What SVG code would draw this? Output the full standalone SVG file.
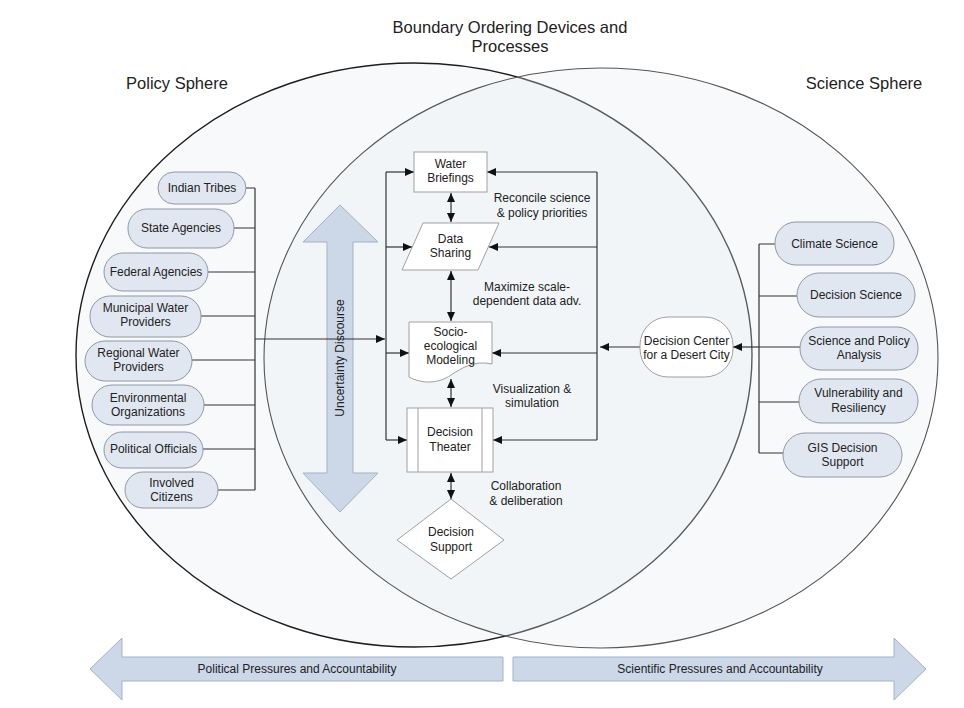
<svg xmlns="http://www.w3.org/2000/svg" width="964" height="708" viewBox="0 0 964 708">
  <style>
    text { font-family: "Liberation Sans", Arial, sans-serif; fill: #222; }
    .title { font-size: 16.5px; text-anchor: middle; }
    .lbl { font-size: 12px; text-anchor: middle; }
    .pill { fill: #e1e7f1; stroke: #9098a6; stroke-width: 1; }
    .box { fill: #ffffff; stroke: #a0a0a0; stroke-width: 1; }
    .wire { fill: none; stroke: #333; stroke-width: 1.2; }
    .fat { fill: #ccd7e8; stroke: #a5b1c3; stroke-width: 1; }
  </style>
  <defs>
    <marker id="ah" markerUnits="userSpaceOnUse" markerWidth="9" markerHeight="8" refX="9" refY="4" orient="auto-start-reverse">
      <path d="M0,0 L9,4 L0,8 z" fill="#111"/>
    </marker>
  </defs>

  <rect width="964" height="708" fill="#ffffff"/>

  <!-- the two spheres -->
  <g id="spheres">
    <ellipse cx="414" cy="355" rx="338" ry="292" fill="#e6eaf1" fill-opacity="0.3" stroke="#1e1e1e" stroke-width="1.4"/>
    <ellipse cx="601" cy="358" rx="337" ry="290" fill="#e6eaf1" fill-opacity="0.3" stroke="#555" stroke-width="1.1"/>
  </g>

  <!-- headings -->
  <g id="headings">
    <text class="title" x="510" y="33">Boundary Ordering Devices and</text>
    <text class="title" x="510" y="52">Processes</text>
    <text class="title" x="177" y="89">Policy Sphere</text>
    <text class="title" x="864" y="89">Science Sphere</text>
  </g>

  <!-- pressure arrows along the bottom -->
  <g id="political-pressures">
    <polygon class="fat" points="90,669 122,638 122,657 503,657 503,681 122,681 122,700"/>
    <text class="lbl" x="297" y="673">Political Pressures and Accountability</text>
  </g>
  <g id="scientific-pressures">
    <polygon class="fat" points="926,669 894,638 894,657 513,657 513,681 894,681 894,700"/>
    <text class="lbl" x="720" y="673">Scientific Pressures and Accountability</text>
  </g>

  <!-- uncertainty discourse double arrow -->
  <g id="uncertainty-discourse">
    <polygon class="fat" points="340,205 378,242 353,242 353,473 378,473 340,512 303,473 327,473 327,242 303,242"/>
    <text class="lbl" transform="translate(344,358) rotate(-90)">Uncertainty Discourse</text>
  </g>

  <!-- connectors -->
  <g id="connectors">
    <!-- policy tree -->
    <path class="wire" d="M246,188 H255 M234,228 H255 M208,272 H255 M201,316 H255 M192,360 H255 M204,405 H255 M203,449 H255 M218,490 H255 M255,188 V490"/>
    <line class="wire" x1="255" y1="339" x2="385" y2="339" marker-end="url(#ah)"/>
    <!-- left bracket -->
    <path class="wire" d="M386,172 V440"/>
    <line class="wire" x1="386" y1="172" x2="414" y2="172" marker-end="url(#ah)"/>
    <line class="wire" x1="386" y1="247" x2="412" y2="247" marker-end="url(#ah)"/>
    <line class="wire" x1="386" y1="353" x2="409" y2="353" marker-end="url(#ah)"/>
    <line class="wire" x1="386" y1="440" x2="407" y2="440" marker-end="url(#ah)"/>
    <!-- right bracket -->
    <path class="wire" d="M597,172 V440"/>
    <line class="wire" x1="597" y1="172" x2="487" y2="172" marker-end="url(#ah)"/>
    <line class="wire" x1="597" y1="247" x2="489" y2="247" marker-end="url(#ah)"/>
    <line class="wire" x1="597" y1="353" x2="492" y2="353" marker-end="url(#ah)"/>
    <line class="wire" x1="597" y1="440" x2="493" y2="440" marker-end="url(#ah)"/>
    <!-- vertical chain -->
    <line class="wire" x1="451" y1="193" x2="451" y2="222" marker-start="url(#ah)" marker-end="url(#ah)"/>
    <line class="wire" x1="451" y1="271" x2="451" y2="321" marker-start="url(#ah)" marker-end="url(#ah)"/>
    <line class="wire" x1="451" y1="379" x2="451" y2="407" marker-start="url(#ah)" marker-end="url(#ah)"/>
    <line class="wire" x1="451" y1="473" x2="451" y2="499" marker-start="url(#ah)" marker-end="url(#ah)"/>
    <!-- science tree -->
    <path class="wire" d="M759,244 V453 M759,244 H775 M759,296 H797 M759,347 H800 M759,402 H799 M759,453 H783"/>
    <line class="wire" x1="759" y1="347" x2="733" y2="347" marker-end="url(#ah)"/>
    <line class="wire" x1="640" y1="347" x2="600" y2="347" marker-end="url(#ah)"/>
  </g>

  <!-- annotations on the chain -->
  <g id="annotations">
    <text class="lbl" x="542" y="202">Reconcile science</text>
    <text class="lbl" x="542" y="217">&amp; policy priorities</text>
    <text class="lbl" x="527" y="291">Maximize scale-</text>
    <text class="lbl" x="527" y="305">dependent data adv.</text>
    <text class="lbl" x="532" y="393">Visualization &amp;</text>
    <text class="lbl" x="532" y="407">simulation</text>
    <text class="lbl" x="526" y="490">Collaboration</text>
    <text class="lbl" x="526" y="505">&amp; deliberation</text>
  </g>

  <!-- policy actors -->
  <g id="indian-tribes">
    <rect class="pill" x="158" y="172" width="88" height="32" rx="16"/>
    <text class="lbl" x="202" y="192">Indian Tribes</text>
  </g>
  <g id="state-agencies">
    <rect class="pill" x="128" y="209" width="106" height="39" rx="19"/>
    <text class="lbl" x="181" y="232">State Agencies</text>
  </g>
  <g id="federal-agencies">
    <rect class="pill" x="104" y="253" width="104" height="38" rx="19"/>
    <text class="lbl" x="156" y="276">Federal Agencies</text>
  </g>
  <g id="municipal-water-providers">
    <rect class="pill" x="90" y="296" width="111" height="41" rx="20"/>
    <text class="lbl" x="145.5" y="312">Municipal Water</text>
    <text class="lbl" x="145.5" y="326">Providers</text>
  </g>
  <g id="regional-water-providers">
    <rect class="pill" x="85" y="341" width="107" height="40" rx="20"/>
    <text class="lbl" x="138.5" y="357">Regional Water</text>
    <text class="lbl" x="138.5" y="371">Providers</text>
  </g>
  <g id="environmental-organizations">
    <rect class="pill" x="92" y="385" width="112" height="40" rx="20"/>
    <text class="lbl" x="148" y="402">Environmental</text>
    <text class="lbl" x="148" y="416">Organizations</text>
  </g>
  <g id="political-officials">
    <rect class="pill" x="104" y="432" width="99" height="36" rx="18"/>
    <text class="lbl" x="153.5" y="453">Political Officials</text>
  </g>
  <g id="involved-citizens">
    <rect class="pill" x="125" y="472" width="93" height="36" rx="18"/>
    <text class="lbl" x="171.5" y="487">Involved</text>
    <text class="lbl" x="171.5" y="501">Citizens</text>
  </g>

  <!-- boundary ordering devices -->
  <g id="water-briefings">
    <rect class="box" x="414" y="152" width="73" height="40"/>
    <text class="lbl" x="450.5" y="168">Water</text>
    <text class="lbl" x="450.5" y="182">Briefings</text>
  </g>
  <g id="data-sharing">
    <polygon class="box" points="423,223 499,223 478,270 402,270"/>
    <text class="lbl" x="450.5" y="243">Data</text>
    <text class="lbl" x="450.5" y="257">Sharing</text>
  </g>
  <g id="socio-ecological-modeling">
    <path class="box" d="M409,322 H492 V364 C474,360 462,368 451,375 C438,384 422,384 409,377 Z"/>
    <text class="lbl" x="450.5" y="336">Socio-</text>
    <text class="lbl" x="450.5" y="350">ecological</text>
    <text class="lbl" x="450.5" y="364">Modeling</text>
  </g>
  <g id="decision-theater">
    <rect class="box" x="407" y="408" width="86" height="64"/>
    <path class="box" d="M418,408 V472 M482,408 V472"/>
    <text class="lbl" x="450" y="436">Decision</text>
    <text class="lbl" x="450" y="451">Theater</text>
  </g>
  <g id="decision-support">
    <polygon class="box" points="451,499 504,540 451,579 397,540"/>
    <text class="lbl" x="451" y="536">Decision</text>
    <text class="lbl" x="451" y="551">Support</text>
  </g>

  <g id="decision-center">
    <rect class="box" x="640" y="317" width="93" height="60" rx="28"/>
    <text class="lbl" x="686.5" y="345">Decision Center</text>
    <text class="lbl" x="686.5" y="359">for a Desert City</text>
  </g>

  <!-- science fields -->
  <g id="climate-science">
    <rect class="pill" x="775" y="222" width="119" height="43" rx="21"/>
    <text class="lbl" x="834.5" y="248">Climate Science</text>
  </g>
  <g id="decision-science">
    <rect class="pill" x="797" y="273" width="118" height="44" rx="22"/>
    <text class="lbl" x="856" y="299">Decision Science</text>
  </g>
  <g id="science-policy-analysis">
    <rect class="pill" x="800" y="327" width="118" height="43" rx="21"/>
    <text class="lbl" x="859" y="345">Science and Policy</text>
    <text class="lbl" x="859" y="359">Analysis</text>
  </g>
  <g id="vulnerability-resiliency">
    <rect class="pill" x="799" y="379" width="119" height="44" rx="22"/>
    <text class="lbl" x="858.5" y="397">Vulnerability and</text>
    <text class="lbl" x="858.5" y="412">Resiliency</text>
  </g>
  <g id="gis-decision-support">
    <rect class="pill" x="783" y="433" width="119" height="44" rx="22"/>
    <text class="lbl" x="842.5" y="452">GIS Decision</text>
    <text class="lbl" x="842.5" y="466">Support</text>
  </g>
</svg>
